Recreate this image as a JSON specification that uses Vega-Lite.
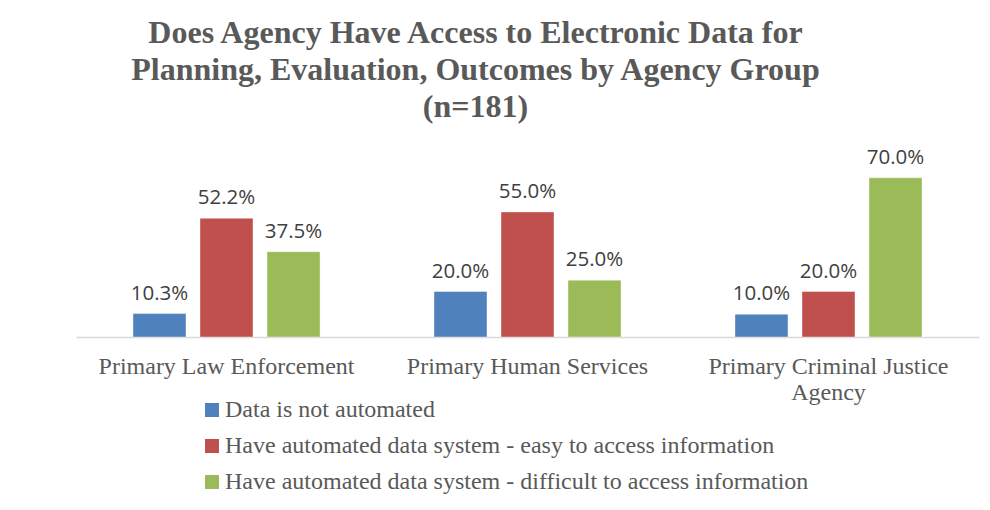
{
  "$schema": "https://vega.github.io/schema/vega-lite/v6.json",
  "width": 903,
  "height": 182,
  "autosize": "none",
  "padding": {"left": 76, "top": 155, "right": 11, "bottom": 173},
  "background": "white",
  "title": {
    "text": ["Does Agency Have Access to Electronic Data for", "Planning, Evaluation, Outcomes by Agency Group", "(n=181)"],
    "font": "Liberation Serif",
    "fontSize": 32,
    "fontWeight": "bold",
    "color": "#595959",
    "lineHeight": 37,
    "anchor": "middle",
    "dx": -52,
    "offset": 24
  },
  "data": {
    "values": [
      {"group": "Primary Law Enforcement", "series": "Data is not automated", "value": 0.103},
      {"group": "Primary Law Enforcement", "series": "Have automated data system - easy to access information", "value": 0.522},
      {"group": "Primary Law Enforcement", "series": "Have automated data system - difficult to access information", "value": 0.375},
      {"group": "Primary Human Services", "series": "Data is not automated", "value": 0.200},
      {"group": "Primary Human Services", "series": "Have automated data system - easy to access information", "value": 0.550},
      {"group": "Primary Human Services", "series": "Have automated data system - difficult to access information", "value": 0.250},
      {"group": "Primary Criminal Justice Agency", "series": "Data is not automated", "value": 0.100},
      {"group": "Primary Criminal Justice Agency", "series": "Have automated data system - easy to access information", "value": 0.200},
      {"group": "Primary Criminal Justice Agency", "series": "Have automated data system - difficult to access information", "value": 0.700}
    ]
  },
  "encoding": {
    "x": {
      "field": "group",
      "type": "nominal",
      "sort": ["Primary Law Enforcement", "Primary Human Services", "Primary Criminal Justice Agency"],
      "scale": {"paddingInner": 0, "paddingOuter": 0},
      "axis": {
        "title": null,
        "labelAngle": 0,
        "ticks": false,
        "domainColor": "#d9d9d9",
        "domainWidth": 1.5,
        "labelPadding": 17,
        "labelLineHeight": 26,
        "labelLimit": 400,
        "labelExpr": "datum.value == 'Primary Criminal Justice Agency' ? ['Primary Criminal Justice', 'Agency'] : datum.value"
      }
    },
    "xOffset": {
      "field": "series",
      "type": "nominal",
      "sort": ["Data is not automated", "Have automated data system - easy to access information", "Have automated data system - difficult to access information"],
      "scale": {"paddingInner": 0.209, "paddingOuter": 0.85}
    },
    "y": {
      "field": "value",
      "type": "quantitative",
      "scale": {"domain": [0, 0.8]},
      "axis": null
    }
  },
  "layer": [
    {
      "mark": {"type": "bar", "stroke": "white", "strokeOpacity": 0.4, "strokeWidth": 1},
      "encoding": {
        "color": {
          "field": "series",
          "type": "nominal",
          "sort": ["Data is not automated", "Have automated data system - easy to access information", "Have automated data system - difficult to access information"],
          "scale": {"range": ["#4F81BD", "#C0504D", "#9BBB59"]},
          "legend": {
            "title": null,
            "orient": "none",
            "direction": "vertical",
            "legendX": 124,
            "legendY": 243
          }
        }
      }
    },
    {
      "mark": {"type": "text", "baseline": "bottom", "dy": -10, "font": "Open Sans", "fontSize": 20.5, "color": "#404040"},
      "encoding": {
        "text": {"field": "value", "type": "quantitative", "format": ".1%"}
      }
    }
  ],
  "config": {
    "view": {"stroke": null},
    "axis": {
      "labelFont": "Liberation Serif",
      "labelFontSize": 24,
      "labelColor": "#595959"
    },
    "legend": {
      "padding": 0,
      "symbolType": "square",
      "symbolSize": 196,
      "symbolStrokeWidth": 0,
      "labelFont": "Liberation Serif",
      "labelFontSize": 24,
      "labelColor": "#595959",
      "labelOffset": 1,
      "labelLimit": 800,
      "rowPadding": 12
    }
  }
}
